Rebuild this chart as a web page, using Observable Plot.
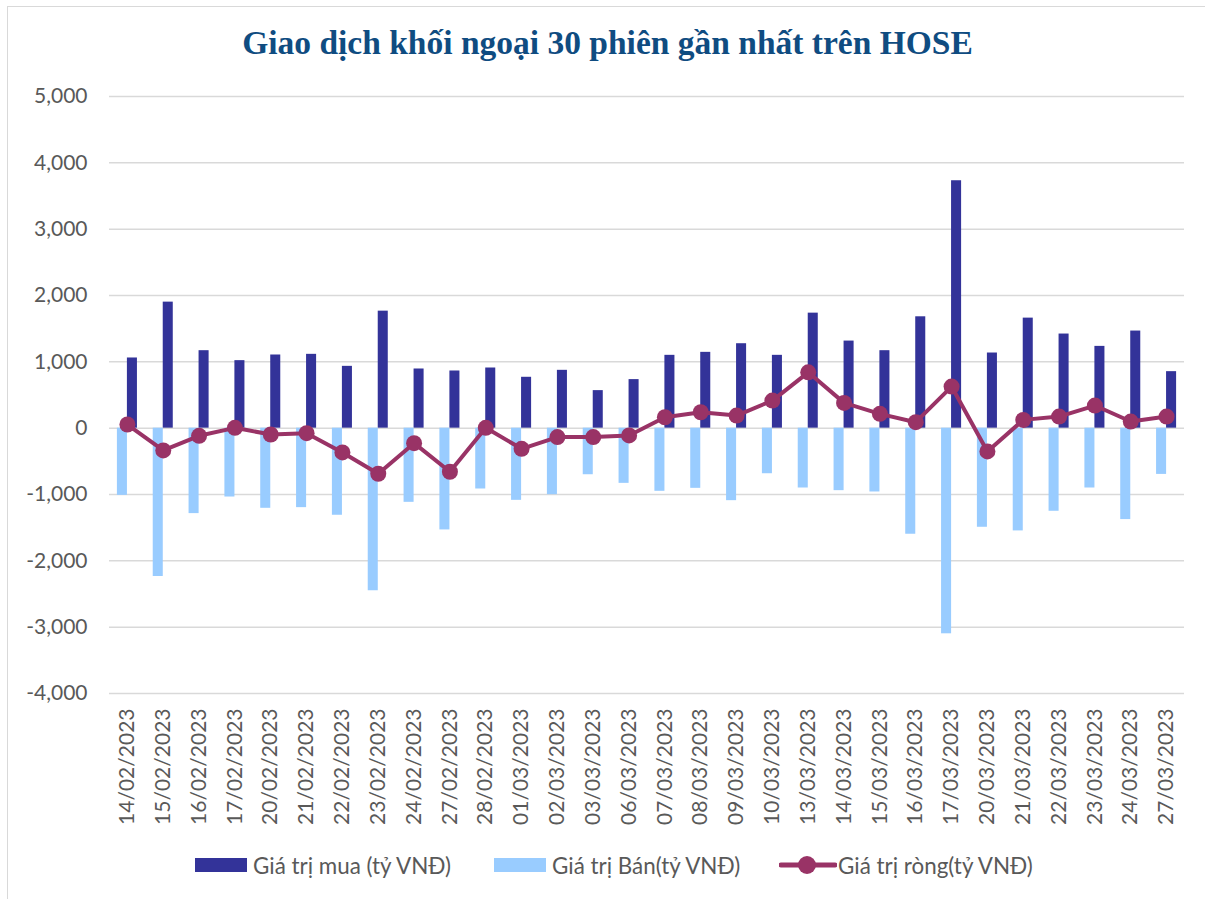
<!DOCTYPE html>
<html>
<head>
<meta charset="utf-8">
<script src="https://cdn.jsdelivr.net/npm/d3@7"></script>
<script src="https://cdn.jsdelivr.net/npm/@observablehq/plot@0.6"></script>
<style>
  html, body { margin: 0; padding: 0; background: #fff; }
  #wrap { position: relative; width: 1205px; height: 899px; overflow: hidden; }
  #frame { position: absolute; left: 7px; top: 6px; width: 1300px; height: 1000px;
           border-left: 1.5px solid #d9d9d9; border-top: 1.5px solid #d9d9d9; pointer-events: none; }
  #title { height: 80px; width: 1205px; box-sizing: border-box; padding-left: 10px; padding-top: 27px;
           text-align: center; font-family: "Liberation Serif", serif; font-weight: bold;
           font-size: 33.5px; line-height: 32px; color: #0f4c81; }
  #chart svg { display: block; }
  #legend { position: relative; height: 59px; font-family: Lato, sans-serif; font-size: 22.4px; color: #595959; }
  .item { position: absolute; top: 0; height: 50px; display: flex; align-items: center; white-space: nowrap; }
  .sw { width: 52px; height: 14px; margin-right: 6px; }
</style>
</head>
<body>
<div id="wrap">
  <div id="frame"></div>
  <div id="title">Giao dịch khối ngoại 30 phiên gần nhất trên HOSE</div>
  <div id="chart"></div>
  <div id="legend"></div>
</div>
<script>
const dates = ["14/02/2023","15/02/2023","16/02/2023","17/02/2023","20/02/2023","21/02/2023","22/02/2023","23/02/2023","24/02/2023","27/02/2023","28/02/2023","01/03/2023","02/03/2023","03/03/2023","06/03/2023","07/03/2023","08/03/2023","09/03/2023","10/03/2023","13/03/2023","14/03/2023","15/03/2023","16/03/2023","17/03/2023","20/03/2023","21/03/2023","22/03/2023","23/03/2023","24/03/2023","27/03/2023"];
const buy = [1058,1900,1168,1018,1103,1113,932,1764,892,862,907,767,872,566,732,1098,1143,1273,1098,1734,1313,1168,1679,3730,1133,1659,1419,1233,1464,852];
const sell = [-1013,-2236,-1288,-1038,-1208,-1198,-1313,-2451,-1118,-1534,-917,-1088,-1003,-702,-832,-952,-907,-1093,-687,-902,-942,-962,-1599,-3100,-1494,-1549,-1253,-902,-1378,-697];
const net = [55,-336,-115,5,-95,-75,-366,-687,-226,-657,5,-311,-135,-135,-110,165,240,190,416,842,381,216,90,627,-351,125,175,341,100,175];
const yTicks = [-4000,-3000,-2000,-1000,0,1000,2000,3000,4000,5000];
const seriesNames = ["Giá trị mua (tỷ VNĐ)", "Giá trị Bán(tỷ VNĐ)", "Giá trị ròng(tỷ VNĐ)"];
const colors = ["#333399", "#99ccff", "#993366"];

const rows = dates.map((d, i) => ({date: d, buy: buy[i], sell: sell[i], net: net[i]}));
const fmt = v => (v < 0 ? "-" : "") + d3.format(",")(Math.abs(v));

const chart = Plot.plot({
  width: 1205,
  height: 760,
  marginLeft: 109,
  marginRight: 21,
  marginTop: 16,
  marginBottom: 147,
  style: {fontFamily: "Lato, sans-serif", fontSize: "21px", color: "#595959", background: "transparent"},
  x: {type: "band", domain: dates, padding: 0, round: false, label: null},
  y: {domain: [-4000, 5000], label: null},
  marks: [
    Plot.ruleY(yTicks, {stroke: "#d9d9d9", strokeWidth: 1.5}),
    Plot.barY(rows, {x: "date", y: "buy", fill: colors[0], insetLeft: 17.9, insetRight: 7.9}),
    Plot.barY(rows, {x: "date", y: "sell", fill: colors[1], insetLeft: 7.9, insetRight: 17.9}),
    Plot.line(rows, {x: "date", y: "net", stroke: colors[2], strokeWidth: 4, strokeLinejoin: "round"}),
    Plot.dot(rows, {x: "date", y: "net", r: 8, fill: colors[2]}),
    Plot.axisY({ticks: yTicks, tickSize: 0, tickPadding: 22, tickFormat: fmt, label: null}),
    Plot.axisX({tickSize: 0, tickPadding: 15, tickRotate: -90, label: null})
  ]
});
document.getElementById("chart").appendChild(chart);

const legend = document.getElementById("legend");
const lefts = [195, 494, 779];
seriesNames.forEach((name, i) => {
  const it = document.createElement("div");
  it.className = "item";
  it.style.left = lefts[i] + "px";
  if (i < 2) {
    const sw = document.createElement("div");
    sw.className = "sw";
    sw.style.background = colors[i];
    it.appendChild(sw);
  } else {
    const ns = "http://www.w3.org/2000/svg";
    const s = document.createElementNS(ns, "svg");
    s.setAttribute("width", 58); s.setAttribute("height", 20);
    s.style.marginRight = "1px";
    const l = document.createElementNS(ns, "line");
    l.setAttribute("x1", 2); l.setAttribute("x2", 56); l.setAttribute("y1", 10); l.setAttribute("y2", 10);
    l.setAttribute("stroke", colors[2]); l.setAttribute("stroke-width", 5); l.setAttribute("stroke-linecap", "round");
    const c = document.createElementNS(ns, "circle");
    c.setAttribute("cx", 28); c.setAttribute("cy", 10); c.setAttribute("r", 9);
    c.setAttribute("fill", colors[2]);
    s.appendChild(l); s.appendChild(c);
    it.appendChild(s);
  }
  const t = document.createElement("span");
  t.textContent = name;
  it.appendChild(t);
  legend.appendChild(it);
});
</script>
</body>
</html>
